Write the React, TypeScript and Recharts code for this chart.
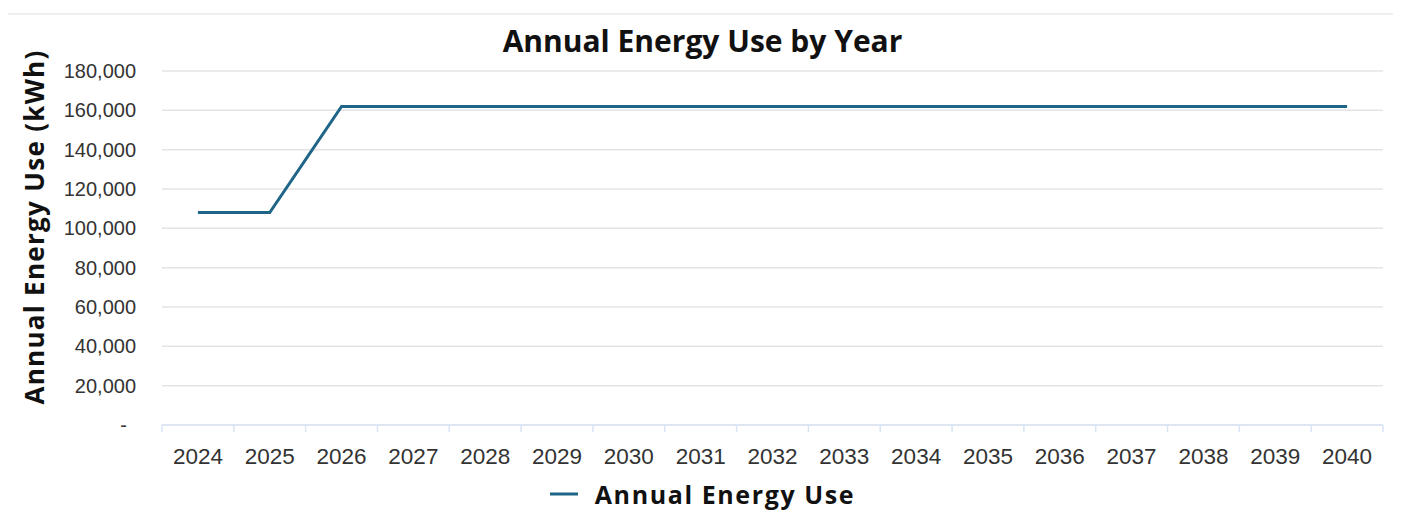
import { LineChart, Line, XAxis, YAxis, CartesianGrid, Legend } from "recharts";

const years = [
  "2024", "2025", "2026", "2027", "2028", "2029", "2030", "2031", "2032",
  "2033", "2034", "2035", "2036", "2037", "2038", "2039", "2040",
];
const energyUse = [
  108000, 108000, 162000, 162000, 162000, 162000, 162000, 162000, 162000,
  162000, 162000, 162000, 162000, 162000, 162000, 162000, 162000,
];
const yTicks = [0, 20000, 40000, 60000, 80000, 100000, 120000, 140000, 160000, 180000];

const W = 1385;
const H = 511;
const margin = { top: 63, right: 10, left: 0, bottom: 10 };
const yAxisWidth = 154;
const band = (W - margin.left - margin.right - yAxisWidth) / years.length;

const data = years.map((year, i) => ({ year, use: energyUse[i] }));

const boldFont = "'Open Sans', sans-serif";
const tickFont = "'Liberation Sans', Arial, sans-serif";
const lineColor = "#1f6587";
const axisColor = "#d8e5f4";

function XTick(props: any) {
  const { x, y, payload, index } = props;
  const left = x - band / 2;
  return (
    <g>
      <line x1={left} x2={left} y1={y} y2={y + 7} stroke={axisColor} strokeWidth={1.5} />
      {index === years.length - 1 && (
        <line x1={x + band / 2} x2={x + band / 2} y1={y} y2={y + 7} stroke={axisColor} strokeWidth={1.5} />
      )}
      <text x={x} y={y + 39} textAnchor="middle" fontFamily={tickFont} fontSize={22.5} fill="#333">
        {payload.value}
      </text>
    </g>
  );
}

function YTick(props: any) {
  const { x, y, payload } = props;
  const v = payload.value as number;
  return (
    <text
      x={v === 0 ? x - 9 : x}
      y={y}
      dy="0.355em"
      textAnchor="end"
      fontFamily={tickFont}
      fontSize={20}
      fill="#333"
    >
      {v === 0 ? "-" : v.toLocaleString("en-US")}
    </text>
  );
}

function LegendContent(props: any) {
  const item = (props.payload || [])[0];
  return (
    <div
      style={{
        display: "flex",
        justifyContent: "center",
        alignItems: "center",
        height: 30,
        paddingLeft: 14,
      }}
    >
      <svg width={28} height={6}>
        <line x1={0} x2={28} y1={3} y2={3} stroke={item ? item.color : lineColor} strokeWidth={3} />
      </svg>
      <span
        style={{
          marginLeft: 17,
          fontFamily: boldFont,
          fontWeight: 700,
          fontSize: 25,
          letterSpacing: 1.6,
          color: "#111",
        }}
      >
        {item ? item.value : "Annual Energy Use"}
      </span>
    </div>
  );
}

export default function App() {
  return (
    <div style={{ position: "relative", width: W, height: H }}>
      <div
        style={{
          position: "absolute",
          left: -5,
          top: 5,
          width: 1397,
          height: 0,
          borderTop: "2px solid #efefef",
        }}
      />
      <div
        style={{
          position: "absolute",
          left: 0,
          top: 16,
          width: W,
          paddingLeft: 4,
          boxSizing: "border-box",
          textAlign: "center",
          fontFamily: boldFont,
          fontWeight: 700,
          fontSize: 30,
          lineHeight: "34px",
          color: "#111",
        }}
      >
        Annual Energy Use by Year
      </div>
      <LineChart width={W} height={H} data={data} margin={margin}>
        <CartesianGrid vertical={false} stroke="#e4e4e4" strokeWidth={1.5} />
        <XAxis
          dataKey="year"
          height={54}
          tickSize={0}
          tickMargin={0}
          tickLine={false}
          padding={{ left: band / 2, right: band / 2 }}
          axisLine={{ stroke: axisColor, strokeWidth: 1.5 }}
          tick={<XTick />}
          interval={0}
        />
        <YAxis
          width={yAxisWidth}
          domain={[0, 180000]}
          ticks={yTicks}
          tickSize={0}
          tickMargin={26}
          tickLine={false}
          axisLine={false}
          tick={<YTick />}
          interval={0}
          label={{
            content: (p: any) => {
              const vb = p.viewBox;
              const cx = vb.x + 26;
              const cy = 219;
              return (
                <text
                  x={cx}
                  y={cy}
                  transform={`rotate(-90, ${cx}, ${cy})`}
                  textAnchor="middle"
                  dominantBaseline="central"
                  fontFamily={boldFont}
                  fontWeight={700}
                  fontSize={26}
                  letterSpacing={1.3}
                  fill="#111"
                >
                  Annual Energy Use (kWh)
                </text>
              );
            },
          }}
        />
        <Legend verticalAlign="bottom" height={30} content={<LegendContent />} />
        <Line
          type="linear"
          dataKey="use"
          name="Annual Energy Use"
          stroke={lineColor}
          strokeWidth={3}
          dot={false}
          activeDot={false}
          isAnimationActive={false}
        />
      </LineChart>
    </div>
  );
}
